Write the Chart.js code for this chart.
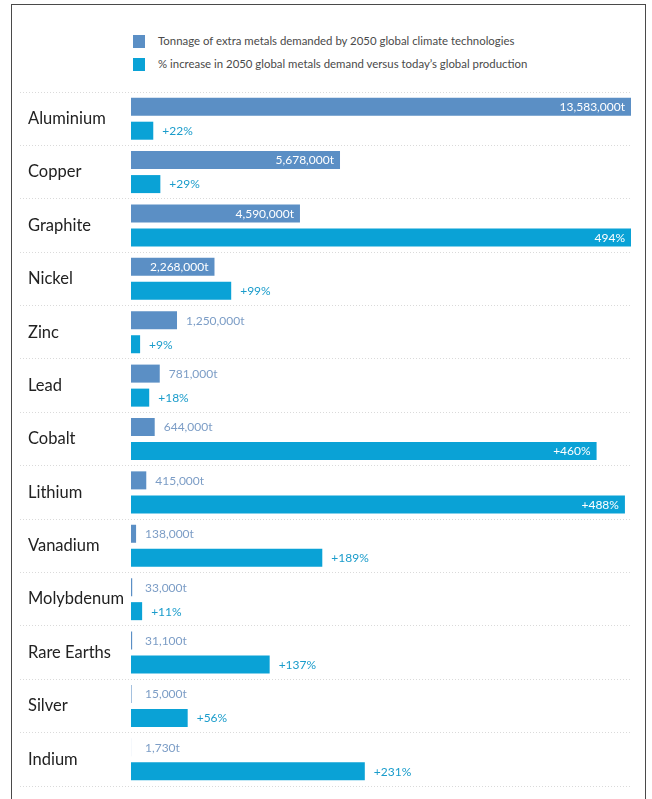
<!DOCTYPE html>
<html>
<head>
<meta charset="utf-8">
<script src="https://cdn.jsdelivr.net/npm/chart.js@4.4.1/dist/chart.umd.min.js"></script>
<style>
  body { margin:0; background:#fff; width:652px; height:799px; overflow:hidden; position:relative; font-family: Lato, "Open Sans", sans-serif; }
  #frame { position:absolute; left:11px; top:4px; width:633px; height:820px; border:1.5px solid #4a4a4a; border-bottom:none; }
  .leg { position:absolute; left:133px; font-size:11.4px; color:#4a4a4a; line-height:14px; white-space:nowrap; }
  .leg .sw { position:absolute; left:0; top:1px; width:12px; height:13px; }
  .leg .tx { position:absolute; left:25px; top:0; }
  #wrap { position:absolute; left:0; top:0; width:652px; height:799px; }
</style>
</head>
<body>
<div id="frame"></div>
<div class="leg" style="top:34px"><div class="sw" style="background:#5b8fc5"></div><div class="tx">Tonnage of extra metals demanded by 2050 global climate technologies</div></div>
<div class="leg" style="top:57px"><div class="sw" style="background:#0aa2d6"></div><div class="tx">% increase in 2050 global metals demand versus today’s global production</div></div>
<div id="wrap"><canvas id="c" width="652" height="799"></canvas></div>
<script>
const categories = ['Aluminium','Copper','Graphite','Nickel','Zinc','Lead','Cobalt','Lithium','Vanadium','Molybdenum','Rare Earths','Silver','Indium'];
const tonnage = [13583000, 5678000, 4590000, 2268000, 1250000, 781000, 644000, 415000, 138000, 33000, 31100, 15000, 1730];
const pctIncrease = [22, 29, 494, 99, 9, 18, 460, 488, 189, 11, 137, 56, 231];
const tonnageLabels = ['13,583,000t','5,678,000t','4,590,000t','2,268,000t','1,250,000t','781,000t','644,000t','415,000t','138,000t','33,000t','31,100t','15,000t','1,730t'];
const pctLabels = ['+22%','+29%','494%','+99%','+9%','+18%','+460%','+488%','+189%','+11%','+137%','+56%','+231%'];
const seriesNames = ['Tonnage of extra metals demanded by 2050 global climate technologies','% increase in 2050 global metals demand versus today’s global production'];

const labelPlugin = {
  id: 'barLabels',
  afterDatasetsDraw(chart) {
    const ctx = chart.ctx;
    const area = chart.chartArea;
    ctx.save();
    ctx.font = '12px Lato, "Open Sans", sans-serif';
    ctx.textBaseline = 'middle';
    chart.data.datasets.forEach((ds, di) => {
      const meta = chart.getDatasetMeta(di);
      const texts = di === 0 ? tonnageLabels : pctLabels;
      meta.data.forEach((bar, i) => {
        const text = texts[i];
        const w = ctx.measureText(text).width;
        const right = bar.x, left = bar.base;
        let inside;
        if (di === 0) inside = (right - left) >= w + 14;
        else inside = right + 9 + w > area.right;
        if (inside) {
          ctx.fillStyle = '#ffffff';
          ctx.textAlign = 'right';
          ctx.fillText(text, right - 6, bar.y + 0.5);
        } else {
          ctx.fillStyle = di === 0 ? '#7c9dc6' : '#1a9ccb';
          ctx.textAlign = 'left';
          ctx.fillText(text, Math.max(right + 9, area.left + 14), bar.y + 0.5);
        }
      });
    });
    ctx.restore();
  }
};

new Chart(document.getElementById('c'), {
  type: 'bar',
  data: {
    labels: categories,
    datasets: [
      { label: seriesNames[0], data: tonnage, xAxisID: 'xT', backgroundColor: '#5b8fc5', categoryPercentage: 0.9, barPercentage: 0.75 },
      { label: seriesNames[1], data: pctIncrease, xAxisID: 'xP', backgroundColor: '#0aa2d6', categoryPercentage: 0.9, barPercentage: 0.75 }
    ]
  },
  options: {
    indexAxis: 'y',
    responsive: false,
    animation: false,
    devicePixelRatio: 1,
    layout: { padding: { top: 92, bottom: 13, left: 28, right: 21 } },
    plugins: { legend: { display: false }, tooltip: { enabled: false } },
    scales: {
      xT: { type: 'linear', display: false, min: 0, max: Math.max(...tonnage) },
      xP: { type: 'linear', display: false, min: 0, max: Math.max(...pctIncrease) },
      y: {
        position: 'left',
        afterFit(scale) { scale.width = 103; },
        grid: { offset: true, color: '#dadada', lineWidth: 1, drawTicks: true, tickLength: 111, tickColor: '#dadada', tickBorderDash: [1, 2] },
        border: { display: false, dash: [1, 2] },
        ticks: { crossAlign: 'far', padding: 0, color: '#222', font: { family: 'Lato, "Open Sans", sans-serif', size: 16.5 } }
      }
    }
  },
  plugins: [labelPlugin]
});
</script>
</body>
</html>
